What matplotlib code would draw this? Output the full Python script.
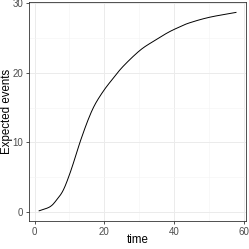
import numpy as np
import matplotlib
matplotlib.use("Agg")
import matplotlib.pyplot as plt

# values
time = [1.3, 4.4, 6.3, 8.2, 10.1, 12.0, 13.2, 15.3, 17.2, 19.6, 22.0, 25.3,
        30.1, 33.9, 38.2, 41.5, 44.4, 50.1, 57.7]
expected = [0.14, 0.72, 1.7, 3.1, 5.5, 8.4, 10.3, 13.2, 15.35, 17.3, 18.9, 20.9,
            23.2, 24.5, 25.8, 26.6, 27.2, 28.0, 28.7]

x_ticks = [0, 20, 40, 60]
y_ticks = [0, 10, 20, 30]


def catmull_rom(x, y, n=20):
    # smooth line through the read points
    x = np.asarray(x, float)
    y = np.asarray(y, float)
    px = np.concatenate([[2 * x[0] - x[1]], x, [2 * x[-1] - x[-2]]])
    py = np.concatenate([[2 * y[0] - y[1]], y, [2 * y[-1] - y[-2]]])
    xs, ys = [], []
    s = np.linspace(0, 1, n, endpoint=False)
    for i in range(1, len(px) - 2):
        for p, out in ((px, xs), (py, ys)):
            p0, p1, p2, p3 = p[i - 1], p[i], p[i + 1], p[i + 2]
            out.extend(0.5 * (2 * p1 + (-p0 + p2) * s
                              + (2 * p0 - 5 * p1 + 4 * p2 - p3) * s ** 2
                              + (-p0 + 3 * p1 - 3 * p2 + p3) * s ** 3))
    xs.append(x[-1])
    ys.append(y[-1])
    return xs, ys


plt.rcParams['font.family'] = ['Liberation Sans', 'DejaVu Sans']

fig = plt.figure(figsize=(2.49, 2.49), dpi=100)
ax = fig.add_axes([0.1165, 0.1124, 0.8705, 0.8796])

tt, ee = catmull_rom(time, expected)
ax.plot(tt, ee, color='black', lw=0.7)

ax.set_xlim(-1.6, 60.5)
ax.set_ylim(-1.33, 30.2)
ax.set_xticks(x_ticks)
ax.set_yticks(y_ticks)
ax.set_xticks([10, 30, 50], minor=True)
ax.set_yticks([5, 15, 25], minor=True)
ax.grid(which='major', color='#EBEBEB', lw=0.7)
ax.grid(which='minor', color='#F4F4F4', lw=0.4)
ax.set_axisbelow(True)
ax.tick_params(which='major', length=2.5, width=0.6, color='#333333',
               labelsize=7, labelcolor='#4D4D4D', pad=1.5)
ax.tick_params(which='minor', length=0)
for s in ax.spines.values():
    s.set_color('#333333')
    s.set_linewidth(0.6)

ax.set_xlabel('time', fontsize=8.3)
ax.set_ylabel('Expected events', fontsize=8.3)
ax.xaxis.set_label_coords(0.5, -0.058)
ax.yaxis.set_label_coords(-0.076, 0.5)

fig.savefig('out.png', dpi=100)
